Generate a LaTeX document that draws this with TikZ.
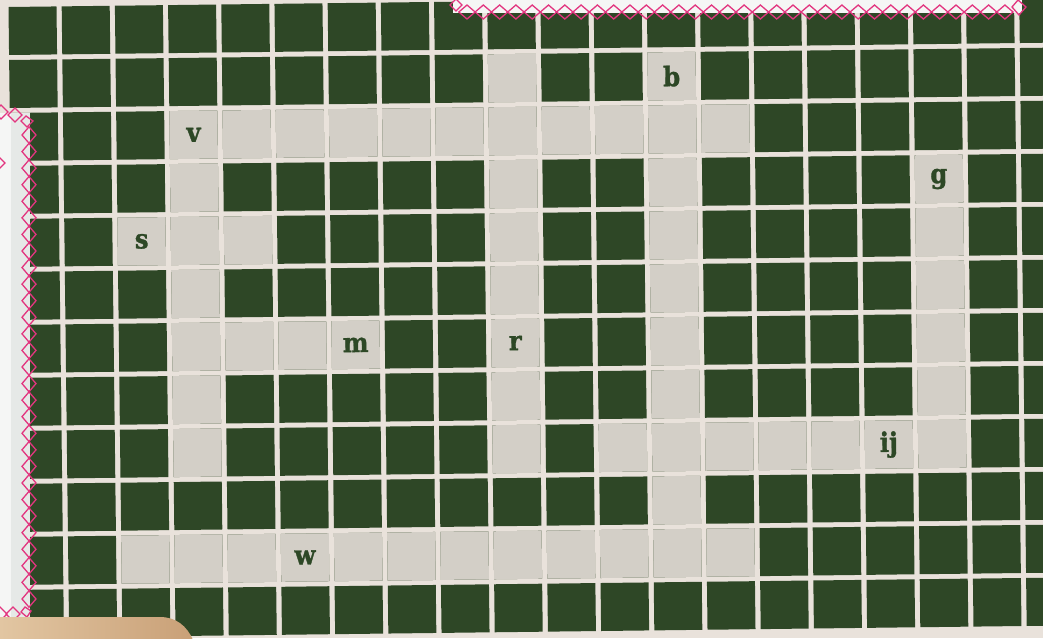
\documentclass[tikz,border=0pt]{standalone}
\usepackage{fontspec}
\newfontfamily\cellfont{DejaVu Serif Condensed Bold}[FakeBold=1.2]
\definecolor{paper}{HTML}{E9E2DB}
\definecolor{boxgreen}{HTML}{2E4726}
\definecolor{openbox}{HTML}{D3CFC7}
\definecolor{inkgreen}{HTML}{2D4826}
\definecolor{zigpink}{HTML}{E2357F}
\definecolor{tapewhite}{HTML}{F5F6F5}
\definecolor{tapeband}{HTML}{E6E9E7}
\definecolor{woodlight}{HTML}{E2C6A2}
\definecolor{wooddark}{HTML}{C9A077}
\begin{document}
\begin{tikzpicture}[
x=1pt,y=1pt,
box/.style={draw=none,minimum size=48pt,inner sep=0pt,transform shape},
darkbox/.style={box,fill=boxgreen},
lightbox/.style={box,fill=openbox},
letter/.style={transform shape,inner sep=0pt,text=inkgreen,font=\cellfont\fontsize{27}{27}\selectfont},
zig/.style={draw=zigpink,line width=1.3pt,line join=miter}
]
\useasboundingbox (0,0) rectangle (1043,-638);
\clip (0,0) rectangle (1043,-638);
\fill[paper] (0,0) rectangle (1043,-638);
\begin{scope}[shift={(8.5,-7)},rotate=0.68]
\foreach \r in {0,...,11}
    \foreach \c in {0,...,19}
        \node[darkbox] (b-\c-\r) at ({\c*53.2+24},{-\r*53-24}) {};
\foreach \c/\r in {9/1,12/1,
    3/2,4/2,5/2,6/2,7/2,8/2,9/2,10/2,11/2,12/2,13/2,
    3/3,9/3,12/3,17/3,
    2/4,3/4,4/4,9/4,12/4,17/4,
    3/5,9/5,12/5,17/5,
    3/6,4/6,5/6,6/6,9/6,12/6,17/6,
    3/7,9/7,12/7,17/7,
    3/8,9/8,11/8,12/8,13/8,14/8,15/8,16/8,17/8,
    12/9,
    2/10,3/10,4/10,5/10,6/10,7/10,8/10,9/10,10/10,11/10,12/10,13/10}
        \node[lightbox] (b-\c-\r) at ({\c*53.2+24},{-\r*53-24}) {};
\node[letter] (lb) at (b-12-1) {b};
\node[letter] (lv) at (b-3-2) {v};
\node[letter] (lg) at (b-17-3) {g};
\node[letter] (ls) at (b-2-4) {s};
\node[letter] (lm) at (b-6-6) {m};
\node[letter] (lr) at (b-9-6) {r};
\node[letter] (lij) at (b-16-8) {ij};
\node[letter] (lw) at (b-5-10) {w};
\end{scope}
\fill[tapewhite] (453,0) rectangle (1022,-13);
\foreach \i in {0,...,33}
    \draw[zig] ({467+16.3*\i},-12) +(-8.15,0) -- +(0,7) -- +(8.15,0) -- +(0,-7) -- cycle;
\draw[zig] (456,-5) +(-6,0) -- +(0,6) -- +(6,0) -- +(0,-6) -- cycle;
\draw[zig] (1019,-8) +(-7,1) -- +(-1,8) -- +(7,1) -- +(0,-7) -- cycle;
\fill[tapewhite] (0,-113) rectangle (30,-618);
\fill[tapeband] (11,-113) rectangle (30,-618);
\foreach \i in {0,...,28}
    \draw[zig] (29,{-135-16.57*\i}) +(0,8.2) -- +(7,0) -- +(0,-8.2) -- +(-7,0) -- cycle;
\draw[zig] (1,-112) +(-7,0) -- +(0,7) -- +(7,0) -- +(0,-7) -- cycle;
\draw[zig] (15,-115) +(-7,0) -- +(0,7) -- +(7,0) -- +(0,-7) -- cycle;
\draw[zig] (27,-122) +(-6,1) -- +(-1,6) -- +(6,1) -- +(0,-5) -- cycle;
\draw[zig] (-2,-163) +(-7,0) -- +(0,7) -- +(7,0) -- +(0,-7) -- cycle;
\draw[zig] (0,-614) +(-7,0) -- +(0,7) -- +(7,0) -- +(0,-7) -- cycle;
\draw[zig] (13,-614) +(-7,0) -- +(0,7) -- +(7,0) -- +(0,-7) -- cycle;
\draw[zig] (26,-612) +(-5,0) -- +(-1,5) -- +(5,1) -- +(1,-5) -- cycle;
\shade[left color=woodlight,right color=wooddark] (0,-617) -- (160,-617)
    .. controls (176,-617) and (187,-626) .. (193,-640) -- (0,-640) -- cycle;
\end{tikzpicture}
\end{document}
